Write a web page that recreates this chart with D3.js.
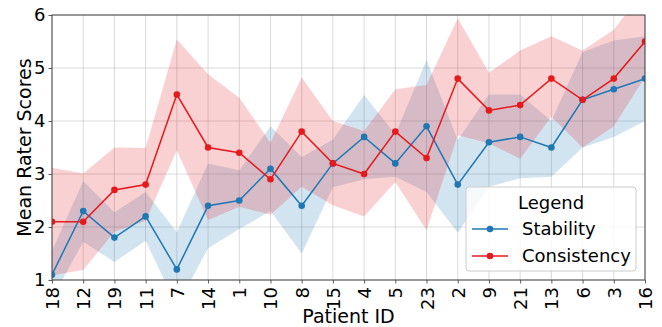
<!DOCTYPE html>
<html>
<head>
<meta charset="utf-8">
<script src="https://cdn.jsdelivr.net/npm/d3@7"></script>
<style>
  body { margin: 0; background: #fff; }
  text { font-family: "DejaVu Sans", sans-serif; fill: #000; }
</style>
</head>
<body>
<div id="chart"></div>
<script>
// patient order along the x axis
const patients = ["18","12","19","11","7","14","1","10","8","15","4","5","23","2","9","21","13","6","3","16"];

const stability = [1.1,2.3,1.8,2.2,1.2,2.4,2.5,3.1,2.4,3.2,3.7,3.2,3.9,2.8,3.6,3.7,3.5,4.4,4.6,4.8];
const stabilityLow = [0.65,1.72,1.34,1.74,0.5,1.6,1.96,2.3,1.5,2.75,2.9,2.95,2.66,1.89,2.76,2.92,2.95,3.5,3.7,4.0];
const stabilityHigh = [1.55,2.87,2.28,2.66,1.9,3.2,3.07,3.9,3.32,3.65,4.49,3.75,5.15,3.64,4.5,4.5,4.0,5.3,5.52,5.6];

const consistency = [2.1,2.1,2.7,2.8,4.5,3.5,3.4,2.9,3.8,3.2,3.0,3.8,3.3,4.8,4.2,4.3,4.8,4.4,4.8,5.5];
const consistencyLow = [1.09,1.19,1.91,2.12,3.45,2.13,2.38,2.23,2.76,2.41,2.2,2.85,1.94,3.73,3.58,3.29,4.08,3.5,3.9,4.83];
const consistencyHigh = [3.12,3.01,3.5,3.49,5.54,4.88,4.44,3.59,4.82,4.0,3.81,4.6,4.68,5.94,4.91,5.33,5.6,5.33,5.72,6.5];

const yTicks = [1,2,3,4,5,6];

const W = 662, H = 327;
const margin = {top: 15, right: 17, bottom: 47, left: 52};
const width = W - margin.left - margin.right,
      height = H - margin.top - margin.bottom;

const blue = "#1f77b4", red = "#e41a1c";

const svg = d3.select("#chart").append("svg")
  .attr("width", W).attr("height", H);

svg.append("defs").append("clipPath").attr("id", "clip")
  .append("rect").attr("width", width).attr("height", height);

const g = svg.append("g")
  .attr("transform", "translate(" + margin.left + "," + margin.top + ")");

const x = d3.scalePoint().domain(patients).range([0, width]);
const y = d3.scaleLinear().domain([1, 6]).range([height, 0]);

// grid
g.append("g").selectAll("line").data(patients).enter().append("line")
  .attr("x1", d => x(d)).attr("x2", d => x(d))
  .attr("y1", 0).attr("y2", height)
  .attr("stroke", "#b0b0b0").attr("stroke-opacity", 0.6).attr("stroke-width", 0.8);
g.append("g").selectAll("line").data(yTicks).enter().append("line")
  .attr("x1", 0).attr("x2", width)
  .attr("y1", d => y(d)).attr("y2", d => y(d))
  .attr("stroke", "#b0b0b0").attr("stroke-opacity", 0.6).attr("stroke-width", 0.8);

const plot = g.append("g").attr("clip-path", "url(#clip)");

const series = [
  {name: "Stability", color: blue, mean: stability, lo: stabilityLow, hi: stabilityHigh},
  {name: "Consistency", color: red, mean: consistency, lo: consistencyLow, hi: consistencyHigh}
];

const area = d3.area()
  .x(d => x(d.p)).y0(d => y(d.lo)).y1(d => y(d.hi));
const line = d3.line().x(d => x(d.p)).y(d => y(d.v));

series.forEach(s => {
  const rows = patients.map((p, i) => ({p: p, v: s.mean[i], lo: s.lo[i], hi: s.hi[i]}));
  plot.append("path").datum(rows)
    .attr("d", area).attr("fill", s.color).attr("fill-opacity", 0.2);
});

series.forEach(s => {
  const rows = patients.map((p, i) => ({p: p, v: s.mean[i]}));
  plot.append("path").datum(rows)
    .attr("d", line).attr("fill", "none")
    .attr("stroke", s.color).attr("stroke-width", 1.5);
  plot.append("g").selectAll("circle").data(rows).enter().append("circle")
    .attr("cx", d => x(d.p)).attr("cy", d => y(d.v)).attr("r", 3.3)
    .attr("fill", s.color);
});

// axes
const xAxis = g.append("g").attr("transform", "translate(0," + height + ")")
  .call(d3.axisBottom(x).tickSize(3.5).tickPadding(4));
xAxis.selectAll("text")
  .attr("transform", "rotate(-90)")
  .attr("x", -7).attr("y", 0).attr("dy", "0.36em")
  .style("text-anchor", "end").style("font-size", "18px");

const yAxis = g.append("g")
  .call(d3.axisLeft(y).tickValues(yTicks).tickFormat(d3.format("d")).tickSize(3.5).tickPadding(3));
yAxis.selectAll("text").style("font-size", "18px");

g.selectAll(".domain").remove();
g.selectAll(".tick line").attr("stroke", "#333").attr("stroke-width", 0.8);

g.append("rect").attr("width", width).attr("height", height)
  .attr("fill", "none").attr("stroke", "#444").attr("stroke-width", 1);

// axis titles
svg.append("text")
  .attr("x", margin.left + width / 2).attr("y", 323)
  .attr("text-anchor", "middle").style("font-size", "19px")
  .text("Patient ID");
svg.append("text")
  .attr("transform", "translate(31," + (margin.top + height / 2) + ") rotate(-90)")
  .attr("text-anchor", "middle").style("font-size", "19px")
  .text("Mean Rater Scores");

// legend
const lg = svg.append("g").attr("transform", "translate(466,187)");
lg.append("rect").attr("width", 170).attr("height", 84).attr("rx", 3)
  .attr("fill", "#fff").attr("fill-opacity", 0.8)
  .attr("stroke", "#ccc").attr("stroke-width", 1);
lg.append("text").attr("x", 85).attr("y", 22)
  .attr("text-anchor", "middle").style("font-size", "18px").text("Legend");
series.forEach((s, i) => {
  const yy = 42 + i * 27;
  lg.append("line").attr("x1", 6).attr("x2", 42).attr("y1", yy).attr("y2", yy)
    .attr("stroke", s.color).attr("stroke-width", 1.5);
  lg.append("circle").attr("cx", 24).attr("cy", yy).attr("r", 3.3).attr("fill", s.color);
  lg.append("text").attr("x", 56).attr("y", yy).attr("dy", "0.35em")
    .style("font-size", "18px").text(s.name);
});
</script>
</body>
</html>
